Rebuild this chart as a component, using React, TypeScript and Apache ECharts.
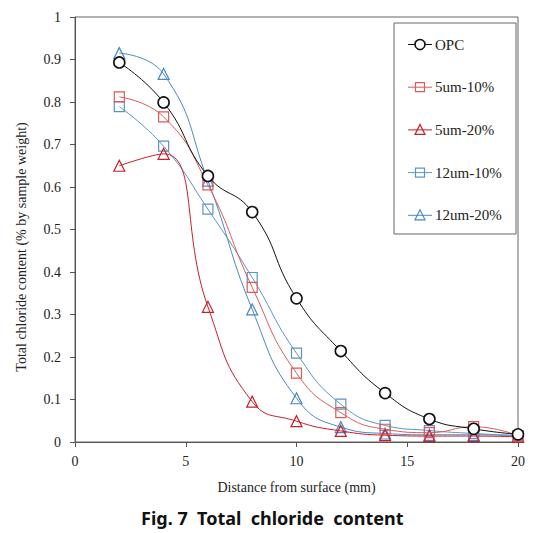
import React, { useEffect, useRef } from "react";
import * as echarts from "echarts";

const distances = [2, 4, 6, 8, 10, 12, 14, 16, 18, 20];
const seriesNames = ["OPC", "5um-10%", "5um-20%", "12um-10%", "12um-20%"];
const opc = [0.893, 0.799, 0.626, 0.541, 0.338, 0.214, 0.115, 0.054, 0.031, 0.018];
const um5p10 = [0.812, 0.765, 0.605, 0.364, 0.162, 0.069, 0.03, 0.022, 0.036, 0.015];
const um5p20 = [0.65, 0.678, 0.318, 0.095, 0.049, 0.026, 0.016, 0.014, 0.014, 0.012];
const um12p10 = [0.789, 0.696, 0.548, 0.387, 0.209, 0.089, 0.039, 0.027, 0.02, 0.015];
const um12p20 = [0.915, 0.866, 0.615, 0.312, 0.103, 0.035, 0.02, 0.017, 0.017, 0.015];
const yTicks = [0, 0.1, 0.2, 0.3, 0.4, 0.5, 0.6, 0.7, 0.8, 0.9, 1];
const xTicks = [0, 5, 10, 15, 20];

const SERIF = "Liberation Serif";

export default function App() {
  const ref = useRef<HTMLDivElement>(null);
  useEffect(() => {
    if (!ref.current) return;
    const chart = echarts.init(ref.current, undefined, { renderer: "svg" });
    const values = [opc, um5p10, um5p20, um12p10, um12p20];
    const colors = ["#111111", "#dc5a58", "#c81e28", "#5d93c2", "#4a88c4"];
    const symbols = ["circle", "rect", "triangle", "rect", "triangle"];
    const sizes = [11, 10, 11, 10, 11];
    const series = seriesNames.map((name, i) => ({
      name,
      type: "line",
      smooth: 0.5,
      data: distances.map((d, j) => [d, values[i][j]]),
      symbol: symbols[i],
      symbolSize: sizes[i],
      lineStyle: { color: colors[i], width: 1 },
      itemStyle: {
        color: i === 0 ? "#ffffff" : "rgba(255,255,255,0)",
        borderColor: colors[i],
        borderWidth: i === 0 ? 1.6 : 1.2,
      },
      z: 10 - i,
    }));

    // legend drawn as graphic (box, line + marker icon, serif text)
    const legendChildren: any[] = [
      {
        type: "rect",
        shape: { x: 0, y: 0, width: 122, height: 211 },
        style: { fill: "#ffffff", stroke: "#666", lineWidth: 1 },
      },
    ];
    seriesNames.forEach((name, i) => {
      const cy = 21.5 + i * 42.7;
      const c = colors[i];
      const lw = i === 0 ? 1.6 : 1.2;
      legendChildren.push({
        type: "line",
        shape: { x1: 14, y1: cy, x2: 38, y2: cy },
        style: { stroke: c, lineWidth: 1 },
      });
      if (symbols[i] === "circle") {
        legendChildren.push({
          type: "circle",
          shape: { cx: 26, cy, r: 5 },
          style: { fill: "#fff", stroke: c, lineWidth: lw },
        });
      } else if (symbols[i] === "rect") {
        legendChildren.push({
          type: "rect",
          shape: { x: 21.5, y: cy - 4.5, width: 9, height: 9 },
          style: { fill: "none", stroke: c, lineWidth: lw },
        });
      } else {
        legendChildren.push({
          type: "polygon",
          shape: { points: [[26, cy - 5.5], [31, cy + 4.5], [21, cy + 4.5]] },
          style: { fill: "none", stroke: c, lineWidth: lw },
        });
      }
      legendChildren.push({
        type: "text",
        x: 41,
        y: cy,
        style: {
          text: name,
          fontFamily: SERIF,
          fontSize: 15,
          fill: "#222",
          textAlign: "left",
          textVerticalAlign: "middle",
        },
      });
    });

    chart.setOption({
      animation: false,
      backgroundColor: "#ffffff",
      textStyle: { fontFamily: SERIF },
      title: {
        text: "Fig. 7  Total  chloride  content",
        left: 136,
        top: 504,
        textStyle: {
          fontFamily: "Noto Sans",
          fontWeight: "bold",
          fontSize: 18,
          color: "#111",
        },
      },
      grid: {
        left: 75,
        right: 27,
        top: 17,
        bottom: 91,
        show: true,
        borderColor: "#666",
        borderWidth: 1,
      },
      xAxis: {
        type: "value",
        min: xTicks[0],
        max: xTicks[xTicks.length - 1],
        interval: 5,
        name: "Distance from surface (mm)",
        nameLocation: "middle",
        nameGap: 38,
        nameTextStyle: { fontFamily: SERIF, fontSize: 14, color: "#222" },
        axisLine: { lineStyle: { color: "#555" } },
        axisTick: { show: true, length: 5, lineStyle: { color: "#555" } },
        axisLabel: { fontFamily: SERIF, fontSize: 14, color: "#222", margin: 12 },
        splitLine: { show: false },
      },
      yAxis: {
        type: "value",
        min: yTicks[0],
        max: yTicks[yTicks.length - 1],
        interval: 0.1,
        axisLine: { show: true, lineStyle: { color: "#555" } },
        axisTick: { show: true, length: 5, lineStyle: { color: "#555" } },
        axisLabel: {
          fontFamily: SERIF,
          fontSize: 14,
          color: "#222",
          margin: 14,
          formatter: (v: number) => String(Math.round(v * 10) / 10),
        },
        splitLine: { show: false },
      },
      graphic: [
        {
          type: "text",
          x: 21,
          y: 247,
          rotation: Math.PI / 2,
          style: {
            text: "Total chloride content (% by sample weight)",
            fontFamily: SERIF,
            fontSize: 14,
            fill: "#222",
            textAlign: "center",
            textVerticalAlign: "middle",
          },
        },
        {
          type: "group",
          x: 394,
          y: 23,
          z: 100,
          children: legendChildren,
        },
      ],
      series,
    });
    return () => chart.dispose();
  }, []);
  return (
    <div
      ref={ref}
      style={{ position: "fixed", left: 0, top: 0, width: 545, height: 533 }}
    />
  );
}
